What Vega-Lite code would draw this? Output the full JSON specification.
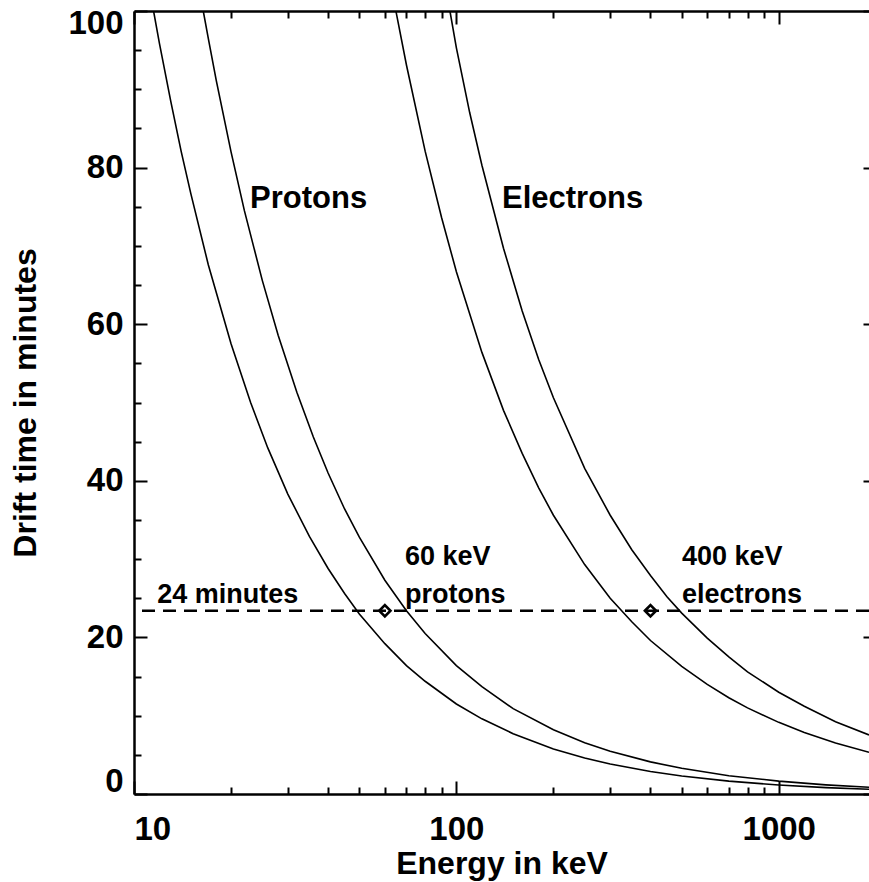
{
  "$schema": "https://vega.github.io/schema/vega-lite/v6.json",
  "autosize": {"type": "none"},
  "width": 735,
  "height": 783,
  "padding": {"left": 134, "top": 11, "right": 0, "bottom": 88},
  "background": "white",
  "config": {
    "view": {"stroke": null},
    "font": "Liberation Sans",
    "axis": {
      "grid": false,
      "domainColor": "black",
      "domainWidth": 2.5,
      "tickColor": "black",
      "tickWidth": 2,
      "labelColor": "black",
      "titleColor": "black",
      "labelFont": "Liberation Sans",
      "titleFont": "Liberation Sans",
      "labelFontWeight": "bold",
      "titleFontWeight": "bold",
      "labelFontSize": 33,
      "titleFontSize": 32
    }
  },
  "datasets": {
    "curves": [
      {"series": "p1", "E": 11.5, "T": 100}, {"series": "p1", "E": 12, "T": 95.8}, {"series": "p1", "E": 13, "T": 88.5},
      {"series": "p1", "E": 14, "T": 82.1}, {"series": "p1", "E": 15, "T": 76.7}, {"series": "p1", "E": 17, "T": 67.6},
      {"series": "p1", "E": 20, "T": 57.5}, {"series": "p1", "E": 23, "T": 50}, {"series": "p1", "E": 26, "T": 44.2},
      {"series": "p1", "E": 30, "T": 38.3}, {"series": "p1", "E": 35, "T": 32.9}, {"series": "p1", "E": 40, "T": 28.8},
      {"series": "p1", "E": 45, "T": 25.6}, {"series": "p1", "E": 50, "T": 23}, {"series": "p1", "E": 60, "T": 19.2},
      {"series": "p1", "E": 70, "T": 16.4}, {"series": "p1", "E": 80, "T": 14.4}, {"series": "p1", "E": 100, "T": 11.5},
      {"series": "p1", "E": 120, "T": 9.6}, {"series": "p1", "E": 150, "T": 7.7}, {"series": "p1", "E": 200, "T": 5.75},
      {"series": "p1", "E": 250, "T": 4.6}, {"series": "p1", "E": 300, "T": 3.83}, {"series": "p1", "E": 400, "T": 2.88},
      {"series": "p1", "E": 500, "T": 2.3}, {"series": "p1", "E": 700, "T": 1.64}, {"series": "p1", "E": 1000, "T": 1.15},
      {"series": "p1", "E": 1400, "T": 0.82}, {"series": "p1", "E": 1905, "T": 0.6},
      {"series": "p2", "E": 16.4, "T": 100}, {"series": "p2", "E": 17, "T": 96.5}, {"series": "p2", "E": 18, "T": 91.1},
      {"series": "p2", "E": 20, "T": 82}, {"series": "p2", "E": 22, "T": 74.5}, {"series": "p2", "E": 25, "T": 65.6},
      {"series": "p2", "E": 28, "T": 58.6}, {"series": "p2", "E": 32, "T": 51.3}, {"series": "p2", "E": 36, "T": 45.6},
      {"series": "p2", "E": 40, "T": 41}, {"series": "p2", "E": 45, "T": 36.4}, {"series": "p2", "E": 50, "T": 32.8},
      {"series": "p2", "E": 60, "T": 27.3}, {"series": "p2", "E": 70, "T": 23.4}, {"series": "p2", "E": 80, "T": 20.5},
      {"series": "p2", "E": 100, "T": 16.4}, {"series": "p2", "E": 120, "T": 13.7}, {"series": "p2", "E": 150, "T": 10.9},
      {"series": "p2", "E": 200, "T": 8.2}, {"series": "p2", "E": 250, "T": 6.56}, {"series": "p2", "E": 300, "T": 5.47},
      {"series": "p2", "E": 400, "T": 4.1}, {"series": "p2", "E": 500, "T": 3.28}, {"series": "p2", "E": 700, "T": 2.34},
      {"series": "p2", "E": 1000, "T": 1.64}, {"series": "p2", "E": 1400, "T": 1.17}, {"series": "p2", "E": 1905, "T": 0.86},
      {"series": "e1", "E": 65, "T": 99.9}, {"series": "e1", "E": 70, "T": 93.1}, {"series": "e1", "E": 80, "T": 82.1},
      {"series": "e1", "E": 90, "T": 73.6}, {"series": "e1", "E": 100, "T": 66.7}, {"series": "e1", "E": 120, "T": 56.4},
      {"series": "e1", "E": 140, "T": 49.0}, {"series": "e1", "E": 160, "T": 43.5}, {"series": "e1", "E": 180, "T": 39.1},
      {"series": "e1", "E": 200, "T": 35.6}, {"series": "e1", "E": 250, "T": 29.3}, {"series": "e1", "E": 300, "T": 25.0},
      {"series": "e1", "E": 350, "T": 22.0}, {"series": "e1", "E": 400, "T": 19.6}, {"series": "e1", "E": 500, "T": 16.3},
      {"series": "e1", "E": 600, "T": 14.0}, {"series": "e1", "E": 700, "T": 12.3}, {"series": "e1", "E": 800, "T": 11.0},
      {"series": "e1", "E": 1000, "T": 9.15}, {"series": "e1", "E": 1200, "T": 7.86}, {"series": "e1", "E": 1500, "T": 6.51},
      {"series": "e1", "E": 1905, "T": 5.32},
      {"series": "e2", "E": 95.5, "T": 100}, {"series": "e2", "E": 100, "T": 95.3}, {"series": "e2", "E": 110, "T": 87.0},
      {"series": "e2", "E": 120, "T": 80.3}, {"series": "e2", "E": 140, "T": 69.7}, {"series": "e2", "E": 160, "T": 61.7},
      {"series": "e2", "E": 180, "T": 55.5}, {"series": "e2", "E": 200, "T": 50.6}, {"series": "e2", "E": 250, "T": 41.6},
      {"series": "e2", "E": 300, "T": 35.6}, {"series": "e2", "E": 350, "T": 31.2}, {"series": "e2", "E": 400, "T": 27.9},
      {"series": "e2", "E": 450, "T": 25.2}, {"series": "e2", "E": 500, "T": 23.1}, {"series": "e2", "E": 600, "T": 19.9},
      {"series": "e2", "E": 700, "T": 17.5}, {"series": "e2", "E": 800, "T": 15.6}, {"series": "e2", "E": 1000, "T": 13.0},
      {"series": "e2", "E": 1200, "T": 11.2}, {"series": "e2", "E": 1500, "T": 9.24}, {"series": "e2", "E": 1905, "T": 7.55}
    ],
    "markers": [
      {"E": 60, "T": 23.4},
      {"E": 400, "T": 23.4}
    ],
    "bigLabels": [
      {"label": "Protons", "E": 22.9, "T": 74.8},
      {"label": "Electrons", "E": 138.5, "T": 74.8}
    ],
    "smallLabels": [
      {"label": "24 minutes", "E": 11.8, "T": 24.4},
      {"label": "60 keV", "E": 69.3, "T": 29.25},
      {"label": "protons", "E": 69.3, "T": 24.4},
      {"label": "400 keV", "E": 501, "T": 29.25},
      {"label": "electrons", "E": 501, "T": 24.4}
    ]
  },
  "resolve": {"axis": {"x": "independent", "y": "independent"}},
  "layer": [
    {
      "data": {"name": "curves"},
      "mark": {"type": "line", "color": "black", "strokeWidth": 1.6, "clip": true},
      "encoding": {
        "x": {
          "field": "E", "type": "quantitative",
          "scale": {"type": "log", "domain": [10, 1905], "nice": false},
          "axis": {
            "orient": "bottom", "values": [10, 100, 1000], "format": "d",
            "tickSize": -13, "labelPadding": 32,
            "title": "Energy in keV", "titlePadding": 2
          }
        },
        "y": {
          "field": "T", "type": "quantitative",
          "scale": {"domain": [0, 100], "nice": false, "zero": false},
          "axis": {
            "orient": "left", "values": [0, 20, 40, 60, 80, 100], "format": "d",
            "tickSize": -13, "labelPadding": 24, "labelFlush": true, "labelFlushOffset": 4,
            "title": "Drift time in minutes", "titlePadding": 25
          }
        },
        "detail": {"field": "series"}
      }
    },
    {
      "data": {"name": "markers"},
      "mark": {"type": "point", "shape": "diamond", "filled": false, "stroke": "black", "strokeWidth": 2.6, "size": 125, "opacity": 1},
      "encoding": {
        "x": {
          "field": "E", "type": "quantitative",
          "axis": {
            "orient": "bottom", "values": [20, 30, 40, 50, 60, 70, 80, 90, 200, 300, 400, 500, 600, 700, 800, 900],
            "tickSize": -7, "labels": false, "domain": false, "title": null
          }
        },
        "y": {
          "field": "T", "type": "quantitative",
          "axis": {
            "orient": "left", "values": [5, 10, 15, 25, 30, 35, 45, 50, 55, 65, 70, 75, 85, 90, 95],
            "tickSize": -7, "labels": false, "domain": false, "title": null
          }
        }
      }
    },
    {
      "data": {"name": "bigLabels"},
      "mark": {"type": "text", "align": "left", "baseline": "alphabetic", "fontSize": 31, "fontWeight": "bold", "font": "Liberation Sans", "color": "black"},
      "encoding": {
        "x": {
          "field": "E", "type": "quantitative",
          "axis": {
            "orient": "top", "values": [10, 100, 1000],
            "tickSize": -13, "labels": false, "domain": true, "title": null
          }
        },
        "y": {
          "field": "T", "type": "quantitative",
          "axis": {
            "orient": "right", "offset": 7, "values": [0, 20, 40, 60, 80, 100],
            "tickSize": -13, "labels": false, "domain": true, "title": null
          }
        },
        "text": {"field": "label"}
      }
    },
    {
      "data": {"name": "smallLabels"},
      "mark": {"type": "text", "align": "left", "baseline": "alphabetic", "fontSize": 27, "fontWeight": "bold", "font": "Liberation Sans", "color": "black"},
      "encoding": {
        "x": {
          "field": "E", "type": "quantitative",
          "axis": {
            "orient": "top", "values": [20, 30, 40, 50, 60, 70, 80, 90, 200, 300, 400, 500, 600, 700, 800, 900],
            "tickSize": -7, "labels": false, "domain": false, "title": null
          }
        },
        "y": {
          "field": "T", "type": "quantitative",
          "axis": {
            "orient": "right", "offset": 7, "values": [5, 10, 15, 25, 30, 35, 45, 50, 55, 65, 70, 75, 85, 90, 95],
            "tickSize": -7, "labels": false, "domain": false, "title": null
          }
        },
        "text": {"field": "label"}
      }
    },
    {
      "data": {"values": [{}]},
      "mark": {"type": "rule", "color": "black", "strokeWidth": 2.5, "strokeDash": [13, 8]},
      "encoding": {
        "y": {"datum": 23.4, "type": "quantitative", "axis": null}
      }
    }
  ]
}
